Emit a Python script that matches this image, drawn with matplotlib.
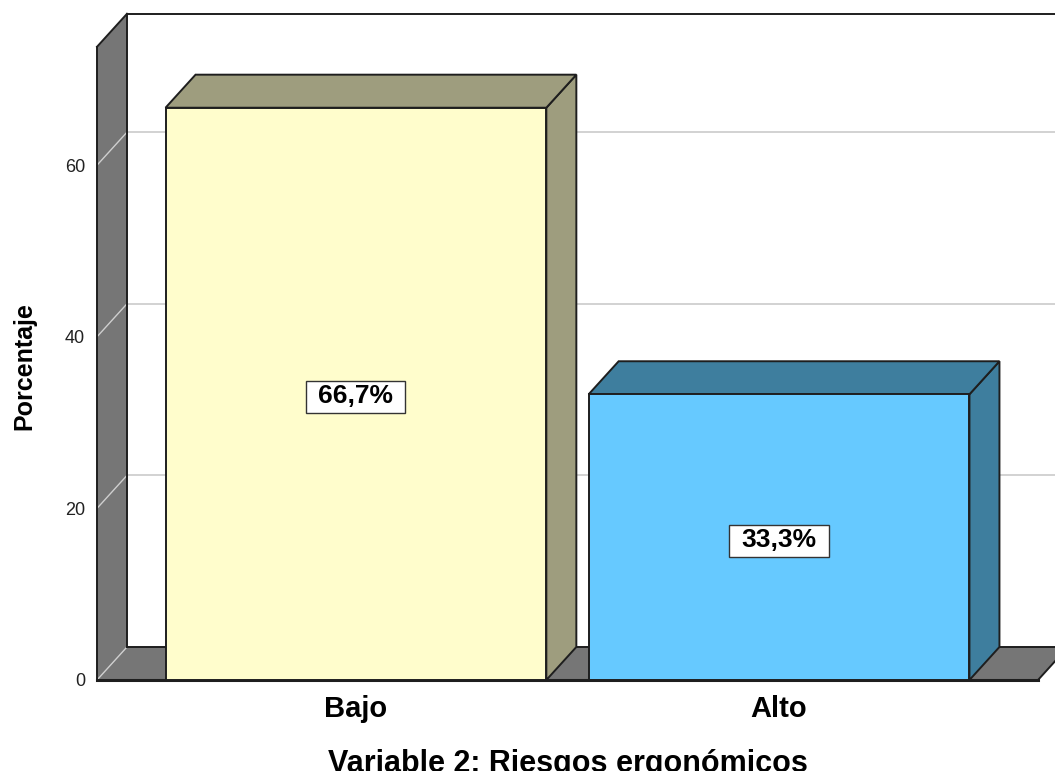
import matplotlib
matplotlib.use("Agg")
import matplotlib.pyplot as plt
from matplotlib.patches import Polygon, Rectangle

plt.rcParams["font.family"] = ["Liberation Sans", "DejaVu Sans"]

# Data
categories = ["Bajo", "Alto"]
percentages = [66.7, 33.3]
value_labels = ["66,7%", "33,3%"]
y_ticks = [0, 20, 40, 60]

# Style
front_colors = ["#FFFDCC", "#66C9FF"]
shade_colors = ["#9E9D7E", "#3E7E9E"]
wall_color = "#767676"
grid_color = "#CFCFCF"
edge_color = "#1E1E1E"

bar_width = 0.9
x_min, x_max = -0.612, 1.612
y_top = 73.8          # height of the left wall (front)
dx, dy = 0.0709, 3.85  # depth offset of the back plane
px_per_unit = 8.58

fig = plt.figure(figsize=(10.55, 7.71), dpi=100)
ax_h = 78 * px_per_unit / 771
ax = fig.add_axes([97 / 1055, 91 / 771, 941 / 1055, ax_h])
ax.set_xlim(x_min, x_max)
ax.set_ylim(0, 78)
ax.patch.set_visible(False)
for s in ax.spines.values():
    s.set_visible(False)


def face(pts, color, z, edge=edge_color):
    ax.add_patch(Polygon(pts, closed=True, facecolor=color, edgecolor=edge,
                         lw=1.4 if edge != "none" else 0, joinstyle="miter",
                         clip_on=False, zorder=z))


def line(xs, ys, color=edge_color, lw=1.4, z=4):
    ax.plot(xs, ys, color=color, lw=lw, clip_on=False, zorder=z,
            solid_capstyle="projecting")


# back plane
face([(x_min + dx, dy), (x_max + dx, dy), (x_max + dx, y_top + dy),
      (x_min + dx, y_top + dy)], "white", 1, edge="none")
for t in y_ticks[1:]:
    line([x_min + dx, x_max + dx], [t + dy, t + dy], grid_color, 1.3, 2)

# left wall and floor
face([(x_min, 0), (x_min, y_top), (x_min + dx, y_top + dy), (x_min + dx, dy)],
     wall_color, 3, edge="none")
face([(x_min, 0), (x_max, 0), (x_max + dx, dy), (x_min + dx, dy)],
     wall_color, 3, edge="none")
for t in y_ticks:
    line([x_min, x_min + dx], [t, t + dy], grid_color, 1.0, 3.5)

# frame outlines
line([x_min, x_min], [0, y_top])
line([x_min, x_min + dx], [y_top, y_top + dy])
line([x_min + dx, x_min + dx], [dy, y_top + dy])
line([x_min + dx, x_max + dx], [y_top + dy, y_top + dy])
line([x_min + dx, x_max + dx], [dy, dy])
line([x_min, x_max], [0, 0], lw=2.2)
line([x_max, x_max + dx], [0, dy])

# bars
for i, v in enumerate(percentages):
    l, r = i - bar_width / 2, i + bar_width / 2
    face([(r, 0), (r + dx, dy), (r + dx, v + dy), (r, v)], shade_colors[i], 5)
    face([(l, v), (r, v), (r + dx, v + dy), (l + dx, v + dy)], shade_colors[i], 5)
    face([(l, 0), (r, 0), (r, v), (l, v)], front_colors[i], 6)

# axes text
ax.set_yticks(y_ticks)
ax.tick_params(axis="y", length=0, pad=8.5, labelsize=13, labelcolor="#222222")
ax.set_xticks(range(len(categories)))
ax.set_xticklabels(categories, fontsize=21, fontweight="bold")
ax.tick_params(axis="x", length=0, pad=11)
ax.set_ylabel("Porcentaje", fontsize=18, fontweight="bold")
ax.yaxis.set_label_coords(-0.064, 0.469)
ax.set_xlabel("Variable 2: Riesgos ergonómicos", fontsize=22,
              fontweight="bold")
ax.xaxis.set_label_coords(0.5, -0.103)

# value labels with boxes
texts = []
for i, v in enumerate(percentages):
    texts.append(ax.text(i, v / 2, value_labels[i], ha="center",
                         va="center_baseline", fontsize=19, fontweight="bold",
                         zorder=11))
fig.canvas.draw()
renderer = fig.canvas.get_renderer()
inv = ax.transData.inverted()
for t in texts:
    bb = t.get_window_extent(renderer)
    (x0, y0) = inv.transform((bb.x0 - 12, bb.y0 - 5))
    (x1, y1) = inv.transform((bb.x1 + 12, bb.y1 + 3))
    ax.add_patch(Rectangle((x0, y0), x1 - x0, y1 - y0, facecolor="white",
                           edgecolor="#333333", lw=1.0, zorder=10, clip_on=False))

fig.savefig("out.png", dpi=100)
